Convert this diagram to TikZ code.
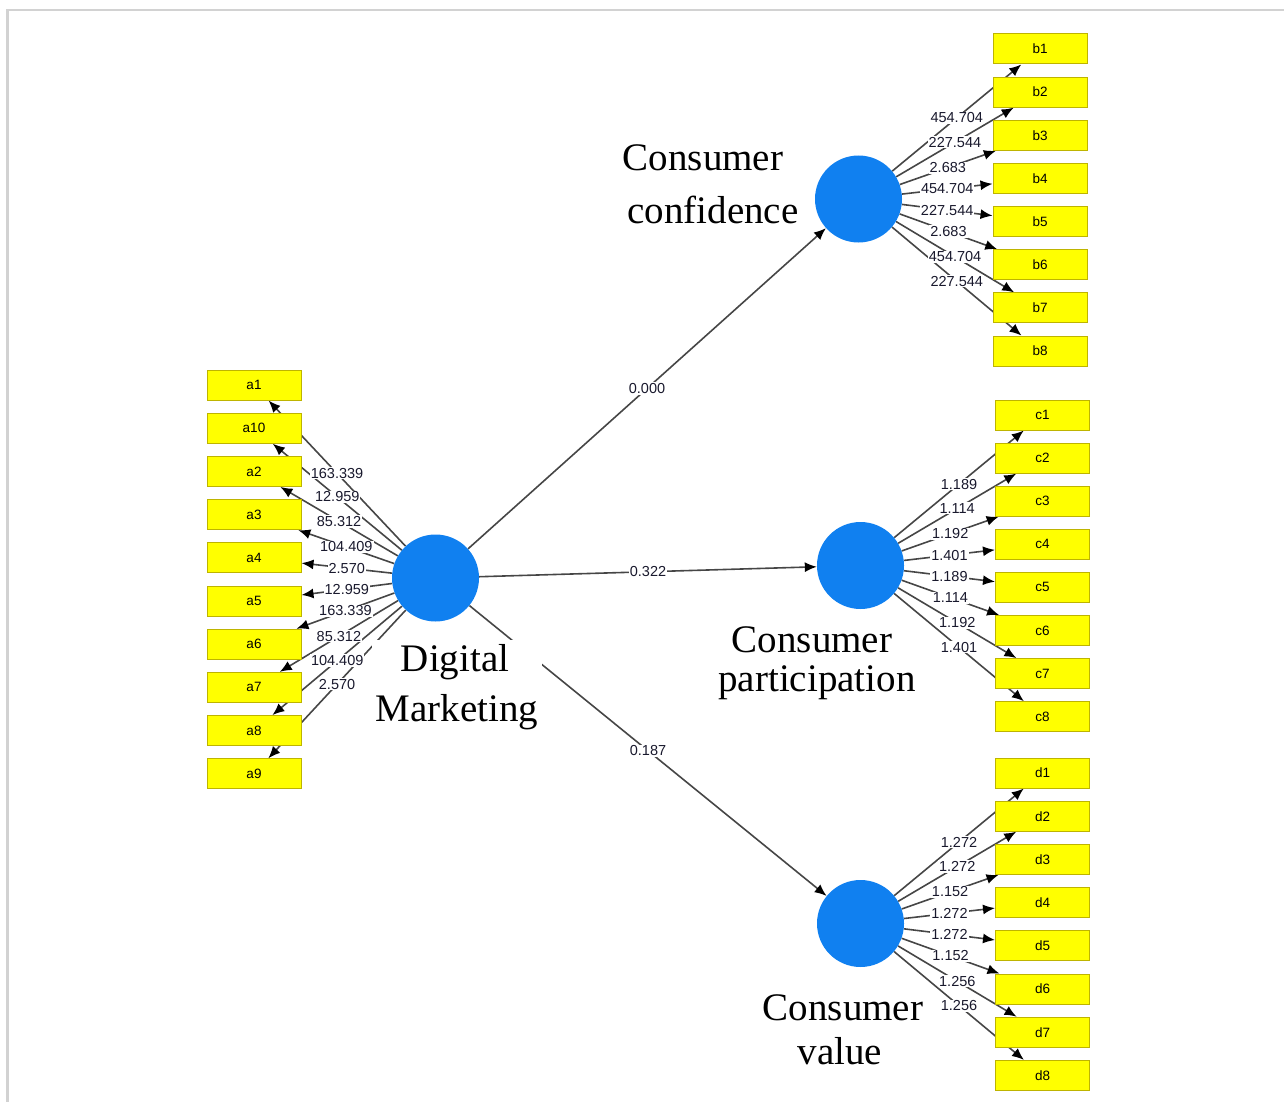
\documentclass[tikz,border=0pt]{standalone}
\usepackage{fontspec}
\setmainfont{Liberation Serif}
\newfontfamily\lblfont{Liberation Sans}
\usetikzlibrary{arrows.meta,backgrounds,fit}
\definecolor{boxyellow}{RGB}{255,255,0}
\definecolor{boxborder}{RGB}{190,180,0}
\definecolor{lvblue}{RGB}{16,128,240}
\definecolor{linegray}{RGB}{70,70,70}
\definecolor{framegray}{RGB}{210,210,210}
\definecolor{labtext}{RGB}{25,25,45}
\begin{document}
\begin{tikzpicture}[x=1pt,y=-1pt,
  ind/.style={draw=boxborder, fill=boxyellow, minimum width=94pt, minimum height=30pt, inner sep=0pt, font=\lblfont\fontsize{13.5}{13.5}\selectfont, line width=1pt},
  lv/.style={circle, fill=lvblue, minimum size=87pt, inner sep=0pt},
  conn/.style={draw=linegray, line width=1.6pt, -{Latex[length=12pt,width=10pt,color=black]}},
  lab/.style={fill=white, inner sep=1pt, font=\lblfont\fontsize{14.5}{14.5}\selectfont, text=labtext},
  big/.style={font=\fontsize{39}{39}\selectfont, anchor=base, inner sep=0pt}
]
\useasboundingbox (0,0) rectangle (1284,1102);
\draw[framegray, line width=2.5pt] (7.3,1102) -- (7.3,10) -- (1284,10);

% latent variables
\node[lv] (dm) at (435.5,578) {};
\node[lv] (cc) at (858.5,199) {};
\node[lv] (cp) at (860.5,565.5) {};
\node[lv] (cv) at (860.5,923.5) {};

% indicators
\foreach \n [count=\i from 0] in {1,10,2,3,4,5,6,7,8,9}
  \node[ind] (a\n) at (254,{385+\i*43.2}) {a\n};
\foreach \i in {1,...,8} {
  \node[ind] (b\i) at (1040,{49+(\i-1)*43.15}) {b\i};
  \node[ind] (c\i) at (1042.5,{415+(\i-1)*43.1}) {c\i};
  \node[ind] (d\i) at (1042.5,{773+(\i-1)*43.2}) {d\i};
}

% titles
\node[big] (cct1) at (703,171) {Consumer};
\node[big] (cct2) at (713,223) {confidence};
\node[big] (dig) at (455,671) {Digital};
\node[big] (mkt) at (457,721) {Marketing};
\node[big] (cpt1) at (812,652) {Consumer};
\node[big] (cpt2) at (817,691) {participation};
\node[big] (cvt1) at (843,1020) {Consumer};
\node[big] (cvt2) at (840,1064) {value};

% connectors
\begin{scope}[on background layer]
  \foreach \n in {1,10,2,3,4,5,6,7,8,9}
    \draw[conn] (dm) -- coordinate[midway] (ma\n) (a\n);
  \foreach \i in {1,...,8} {
    \draw[conn] (cc) -- coordinate[midway] (mb\i) (b\i);
    \draw[conn] (cp) -- coordinate[midway] (mc\i) (c\i);
    \draw[conn] (cv) -- coordinate[midway] (md\i) (d\i);
  }
  \draw[conn] (dm) -- coordinate[midway] (p1) (cc);
  \draw[conn] (dm) -- coordinate[midway] (p2) (cp);
  \draw[conn] (dm) -- coordinate[midway] (p3) (cv);
  \node[fill=white, inner sep=4pt, fit=(dig)(mkt)] (dmtext) {};
\end{scope}

% labels
\foreach \n/\v in {1/163.339,10/12.959,2/85.312,3/104.409,4/2.570,5/12.959,6/163.339,7/85.312,8/104.409,9/2.570}
  \node[lab] at (ma\n) {\v};
\foreach \n/\v in {1/454.704,2/227.544,3/2.683,4/454.704,5/227.544,6/2.683,7/454.704,8/227.544}
  \node[lab] at (mb\n) {\v};
\foreach \n/\v in {1/1.189,2/1.114,3/1.192,4/1.401,5/1.189,6/1.114,7/1.192,8/1.401}
  \node[lab] at (mc\n) {\v};
\foreach \n/\v in {1/1.272,2/1.272,3/1.152,4/1.272,5/1.272,6/1.152,7/1.256,8/1.256}
  \node[lab] at (md\n) {\v};
\node[lab] at (p1) {0.000};
\node[lab] at (p2) {0.322};
\node[lab] at (p3) {0.187};
\end{tikzpicture}
\end{document}
